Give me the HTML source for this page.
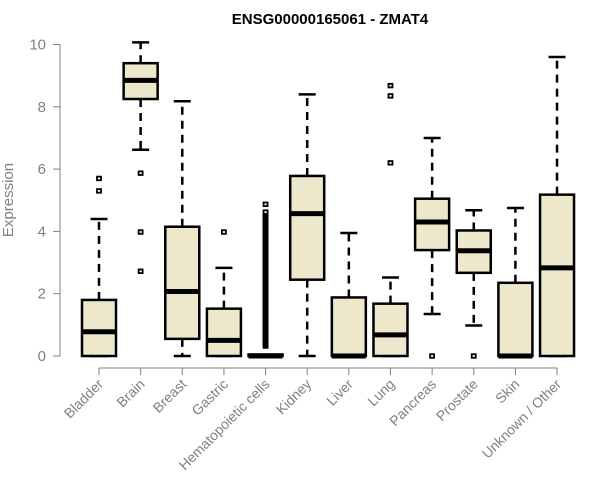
<!DOCTYPE html>
<html><head><meta charset="utf-8"><style>
html,body{margin:0;padding:0;background:#fff;width:600px;height:500px;overflow:hidden}
svg text{font-family:"Liberation Sans",Arial,sans-serif}
</style></head><body>
<svg id="chart" width="600" height="500"></svg>
<script>
const categories=["Bladder","Brain","Breast","Gastric","Hematopoietic cells","Kidney","Liver","Lung","Pancreas","Prostate","Skin","Unknown / Other"];
const lowWhisker=[0,6.62,0,0,0,0,0,0,1.35,0.98,0,0];
const q1=[0,8.25,0.55,0,0,2.45,0,0,3.4,2.67,0,0];
const medians=[0.78,8.85,2.07,0.5,0,4.57,0,0.68,4.3,3.38,0,2.83];
const q3=[1.8,9.4,4.15,1.52,0.05,5.78,1.88,1.68,5.05,4.03,2.35,5.18];
const highWhisker=[4.4,10.07,8.18,2.83,0,8.4,3.95,2.52,7.0,4.68,4.75,9.6];
const outliers=[[5.3,5.7],[5.87,3.98,2.72],[],[3.98],
 [0.32,0.37,0.42,0.47,0.52,0.57,0.62,0.67,0.72,0.77,0.82,0.87,0.92,0.97,1.02,1.07,1.12,1.17,1.22,1.27,1.32,1.37,1.42,1.47,1.52,1.57,1.62,1.67,1.72,1.77,1.82,1.87,1.92,1.97,2.02,2.07,2.12,2.17,2.22,2.27,2.32,2.37,2.42,2.47,2.52,2.57,2.62,2.67,2.72,2.77,2.82,2.87,2.92,2.97,3.02,3.07,3.12,3.17,3.22,3.27,3.32,3.37,3.42,3.47,3.52,3.57,3.62,3.67,3.72,3.77,3.82,3.87,3.92,3.97,4.02,4.07,4.12,4.17,4.22,4.27,4.32,4.37,4.42,4.47,4.52,4.57,4.62,4.87],
 [],[],[6.2,8.35,8.68],[0],[0],[],[]];
const yTicks=[0,2,4,6,8,10];
const NS="http://www.w3.org/2000/svg";
const svg=document.getElementById('chart');
const y=v=>356-v*31.15;
const x=i=>99+i*41.64;
function mk(tag,attrs,parent){const e=document.createElementNS(NS,tag);for(const k in attrs)e.setAttribute(k,attrs[k]);(parent||svg).appendChild(e);return e;}
const t=mk('text',{x:330,y:24,'text-anchor':'middle','font-size':15,'font-weight':'bold',fill:'#000'});
t.textContent="ENSG00000165061 - ZMAT4";


const ax=mk('line',{x1:60,y1:y(0),x2:60,y2:y(10),stroke:'#808080'});


yTicks.forEach(v=>{
 mk('line',{x1:53,y1:y(v),x2:60,y2:y(v),stroke:'#808080'});
 const l=mk('text',{x:46,y:y(v)+5,'text-anchor':'end','font-size':15,fill:'#808080'});
 l.textContent=v;
 
 
});
const yt=mk('text',{x:13,y:200,'text-anchor':'middle','font-size':15,fill:'#808080',transform:'rotate(-90 13 200)'});
yt.textContent="Expression";


const xa=mk('line',{x1:x(0),y1:368,x2:x(categories.length-1),y2:368,stroke:'#808080'});


categories.forEach((c,i)=>{
 const cx=x(i),hw=17;
 mk('line',{x1:cx,y1:368,x2:cx,y2:375,stroke:'#808080'});
 const l=mk('text',{x:cx+5,y:385,'text-anchor':'end','font-size':14,fill:'#808080',transform:`rotate(-45 ${cx+5} 385)`});
 l.textContent=c;
 
 
 const g=mk('g',{});
 
 
 mk('line',{x1:cx,y1:y(q3[i]),x2:cx,y2:y(highWhisker[i]),stroke:'#000','stroke-width':2.5,'stroke-dasharray':'8,6'},g);
 mk('line',{x1:cx,y1:y(q1[i]),x2:cx,y2:y(lowWhisker[i]),stroke:'#000','stroke-width':2.5,'stroke-dasharray':'8,6'},g);
 mk('line',{x1:cx-8.5,y1:y(highWhisker[i]),x2:cx+8.5,y2:y(highWhisker[i]),stroke:'#000','stroke-width':2.5},g);
 mk('line',{x1:cx-8.5,y1:y(lowWhisker[i]),x2:cx+8.5,y2:y(lowWhisker[i]),stroke:'#000','stroke-width':2.5},g);
 mk('rect',{x:cx-hw,y:y(q3[i]),width:hw*2,height:Math.max(y(q1[i])-y(q3[i]),1),fill:'#ede7cc',stroke:'#000','stroke-width':2.5},g);
 mk('line',{x1:cx-hw,y1:y(medians[i]),x2:cx+hw,y2:y(medians[i]),stroke:'#000','stroke-width':5},g);
 outliers[i].forEach(v=>{
  const o=mk('rect',{x:cx-2,y:y(v)-1.8,width:4,height:3.6,fill:'#fff',stroke:'#000','stroke-width':1.8},g);
  
  
 });
});
</script>
</body></html>
